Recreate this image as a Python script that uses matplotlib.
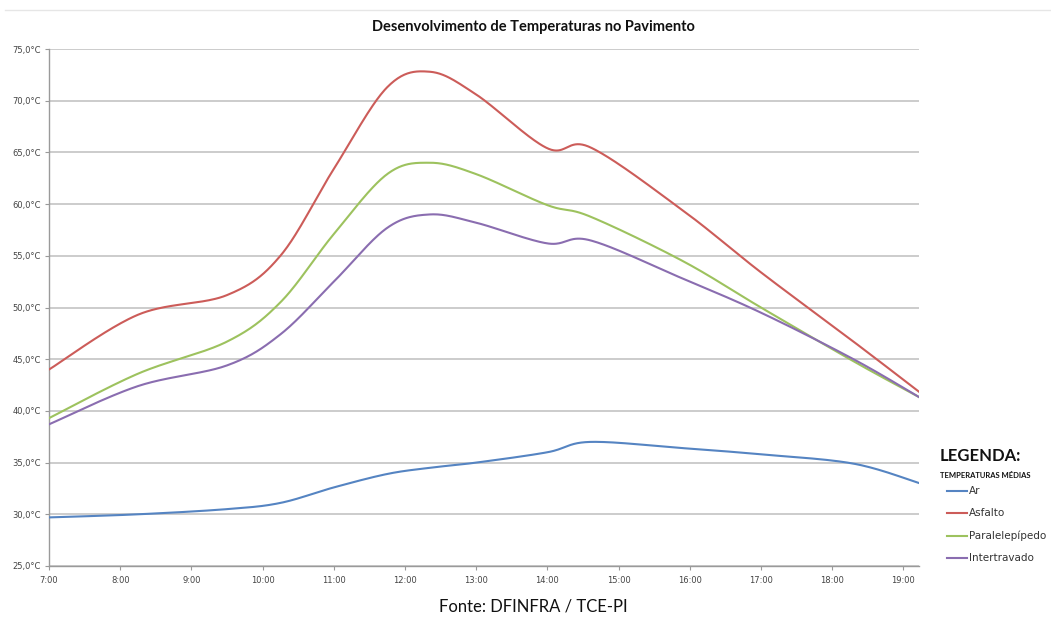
import matplotlib
matplotlib.use("Agg")
import matplotlib.pyplot as plt
import numpy as np
from matplotlib.lines import Line2D

# hours of day (decimal)
horas = [7.0, 8.25, 9.5, 10.25, 11.0, 11.75, 12.35, 13.0, 14.0, 14.6, 15.9, 17.0, 18.3, 19.23]

ar = [29.7, 30.0, 30.5, 31.1, 32.6, 33.9, 34.5, 35.0, 36.0, 37.0, 36.4, 35.8, 34.9, 33.0]
asfalto = [44.0, 49.3, 51.2, 55.0, 63.4, 71.3, 72.8, 70.6, 65.4, 65.5, 59.4, 53.4, 46.7, 41.8]
paralelepipedo = [39.3, 43.6, 46.7, 50.5, 57.1, 62.9, 64.0, 62.9, 59.9, 58.8, 54.5, 50.0, 44.8, 41.3]
intertravado = [38.7, 42.4, 44.4, 47.4, 52.5, 57.7, 59.0, 58.2, 56.2, 56.5, 52.8, 49.5, 45.0, 41.3]

series_nomes = ["Ar", "Asfalto", "Paralelepípedo", "Intertravado"]
cores = ["#5584C2", "#CC5C59", "#9DC25E", "#8A6DB0"]

hora_ticks = list(range(7, 20))
hora_labels = [f"{h}:00" for h in hora_ticks]
temp_ticks = [25, 30, 35, 40, 45, 50, 55, 60, 65, 70, 75]


def suavizar(x, y, n=40):
    """Excel-like smoothed line (Catmull-Rom as cubic Bezier)."""
    p = np.column_stack([x, y]).astype(float)
    p_ext = np.vstack([p[0], p, p[-1]])
    t = np.linspace(0, 1, n)[:, None]
    pts = []
    for i in range(len(p) - 1):
        p0, p1, p2, p3 = p_ext[i], p_ext[i + 1], p_ext[i + 2], p_ext[i + 3]
        b1 = p1 + (p2 - p0) / 6
        b2 = p2 - (p3 - p1) / 6
        seg = ((1 - t) ** 3) * p1 + 3 * ((1 - t) ** 2) * t * b1 + 3 * (1 - t) * t ** 2 * b2 + t ** 3 * p2
        pts.append(seg if i == 0 else seg[1:])
    pts = np.vstack(pts)
    return pts[:, 0], pts[:, 1]


fig = plt.figure(figsize=(10.51, 6.19), dpi=100)
ax = fig.add_axes([49 / 1051, 1 - 566 / 619, (919 - 49) / 1051, (566 - 49) / 619])

for dados, cor, nome in zip([ar, asfalto, paralelepipedo, intertravado], cores, series_nomes):
    xs, ys = suavizar(horas, dados)
    ax.plot(xs, ys, color=cor, lw=1.5, label=nome, solid_capstyle="round", zorder=3)

ax.set_xlim(7.0, 19.22)
ax.set_ylim(25, 75)
ax.set_yticks(temp_ticks)
ax.set_yticklabels([f"{v},0°C" for v in temp_ticks])
ax.set_xticks(hora_ticks)
ax.set_xticklabels(hora_labels)
ax.tick_params(axis="both", labelsize=6, colors="#444444", length=3, width=0.8)
ax.tick_params(axis="both", color="#9a9a9a")
ax.tick_params(axis="x", pad=4)
ax.tick_params(axis="y", pad=3)
ax.yaxis.grid(True, color="#c4c4c4", lw=1.2)
ax.set_axisbelow(True)
for s in ["top", "right"]:
    ax.spines[s].set_visible(False)
for s in ["left", "bottom"]:
    ax.spines[s].set_color("#9a9a9a")
    ax.spines[s].set_linewidth(1.0)

fig.text(533 / 1051, 1 - 27 / 619, "Desenvolvimento de Temperaturas no Pavimento",
         ha="center", va="center", fontsize=10.5, fontweight="bold", family="Lato", color="#111111")

# legend
fig.text(940 / 1051, 1 - 456 / 619, "LEGENDA:", ha="left", va="center",
         fontsize=12, fontweight="bold", family="Lato", color="#111111")
fig.text(940 / 1051, 1 - 475 / 619, "TEMPERATURAS MÉDIAS", ha="left", va="center",
         fontsize=5.5, fontweight="bold", family="Lato", color="#111111")
leg_y = [491, 513, 536, 558]
for nome, cor, yy in zip(series_nomes, cores, leg_y):
    fy = 1 - yy / 619
    fig.add_artist(Line2D([947 / 1051, 967 / 1051], [fy, fy], color=cor, lw=1.5,
                          transform=fig.transFigure))
    fig.text(969 / 1051, fy, nome, ha="left", va="center", fontsize=7.5,
             family="DejaVu Sans", color="#333333")

# chart area border at the top
fig.add_artist(Line2D([5 / 1051, 1.0], [1 - 10 / 619, 1 - 10 / 619], color="#e6e6e6", lw=1,
                      transform=fig.transFigure))

fig.text(533 / 1051, 1 - 607 / 619, "Fonte: DFINFRA / TCE-PI", ha="center", va="center",
         fontsize=12, family="Lato", color="#111111")

fig.savefig("out.png", dpi=100)
